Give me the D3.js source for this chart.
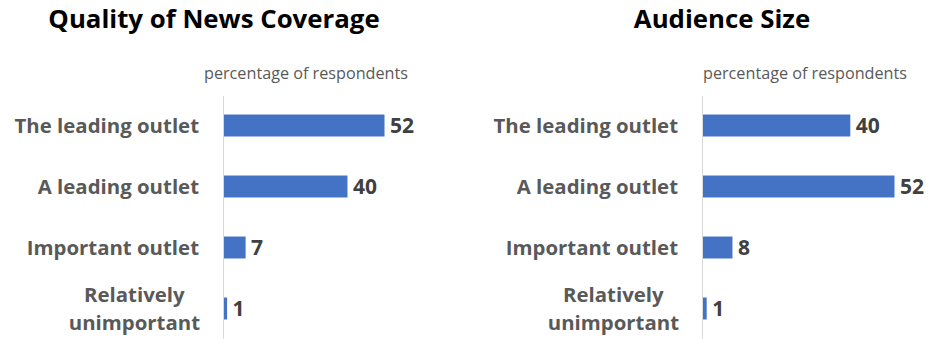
<!DOCTYPE html>
<html>
<head>
<meta charset="utf-8">
<script src="https://cdn.jsdelivr.net/npm/d3@7"></script>
<style>
  html, body { margin: 0; padding: 0; background: #ffffff; }
  svg { display: block; font-family: "Open Sans", Lato, sans-serif; }
</style>
</head>
<body>
<svg id="chart" width="933" height="339"></svg>
<script>
// Survey answers, percentage of respondents
const categories = ["The leading outlet", "A leading outlet", "Important outlet", "Relatively unimportant"];
const qualityValues = [52, 40, 7, 1];
const audienceValues = [40, 52, 8, 1];
const panelTitles = ["Quality of News Coverage", "Audience Size"];
const axisCaption = "percentage of respondents";

const svg = d3.select("#chart");
const barColor = "#4472C4";
const labelSize = 20.4;

// One panel per chart: title, category labels, zero line, bars and value labels
const panels = [
  { title: panelTitles[0], values: qualityValues, axisX: 223.5, xMax: 384, titleX: 214, captionX: 204, labelRight: 199 },
  { title: panelTitles[1], values: audienceValues, axisX: 702.5, xMax: 894, titleX: 722, captionX: 703, labelRight: 678 }
];

panels.forEach(p => {
  const g = svg.append("g");

  const x = d3.scaleLinear().domain([0, 52]).range([p.axisX, p.xMax]);
  const y = d3.scaleBand().domain(categories).range([95, 339])
    .paddingInner(0.64).paddingOuter(0.32);

  g.append("text")
    .attr("x", p.titleX).attr("y", 28)
    .attr("text-anchor", "middle")
    .attr("font-size", 25.8).attr("font-weight", 700)
    .attr("fill", "#000000")
    .text(p.title);

  g.append("text")
    .attr("x", p.captionX).attr("y", 79)
    .attr("font-size", 16.2)
    .attr("fill", "#595959")
    .text(axisCaption);

  // zero line
  g.append("line")
    .attr("x1", x(0)).attr("x2", x(0))
    .attr("y1", 96).attr("y2", 339)
    .attr("stroke", "#d9d9d9").attr("stroke-width", 1);

  const data = categories.map((c, i) => ({ cat: c, value: p.values[i] }));

  g.selectAll("rect.bar").data(data).join("rect")
    .attr("class", "bar")
    .attr("x", x(0) + 0.5)
    .attr("y", d => y(d.cat))
    .attr("width", d => x(d.value) - x(0))
    .attr("height", y.bandwidth())
    .attr("fill", barColor);

  g.selectAll("text.value").data(data).join("text")
    .attr("class", "value")
    .attr("x", d => x(d.value) + 6)
    .attr("y", d => y(d.cat) + y.bandwidth() / 2)
    .attr("dy", "0.36em")
    .attr("font-size", 21).attr("font-weight", 700)
    .attr("fill", "#404040")
    .text(d => d.value);

  // category labels; the last one wraps onto two centred lines
  data.forEach(d => {
    const cy = y(d.cat) + y.bandwidth() / 2;
    const words = d.cat === "Relatively unimportant" ? ["Relatively", "unimportant"] : [d.cat];
    if (words.length === 1) {
      g.append("text")
        .attr("x", p.labelRight).attr("y", cy).attr("dy", "0.36em")
        .attr("text-anchor", "end")
        .attr("font-size", labelSize).attr("font-weight", 700)
        .attr("fill", "#595959")
        .text(words[0]);
    } else {
      const t = g.append("text")
        .attr("font-size", labelSize).attr("font-weight", 700)
        .attr("fill", "#595959")
        .attr("text-anchor", "middle");
      const tmp = t.append("tspan").text(words[1]);
      const w = tmp.node().getComputedTextLength();
      tmp.remove();
      const cx = p.labelRight + 1 - w / 2;
      words.forEach((wd, i) => {
        t.append("tspan")
          .attr("x", cx)
          .attr("y", cy + (i - 0.5) * 28)
          .attr("dy", "0.36em")
          .text(wd);
      });
    }
  });
});
</script>
</body>
</html>
